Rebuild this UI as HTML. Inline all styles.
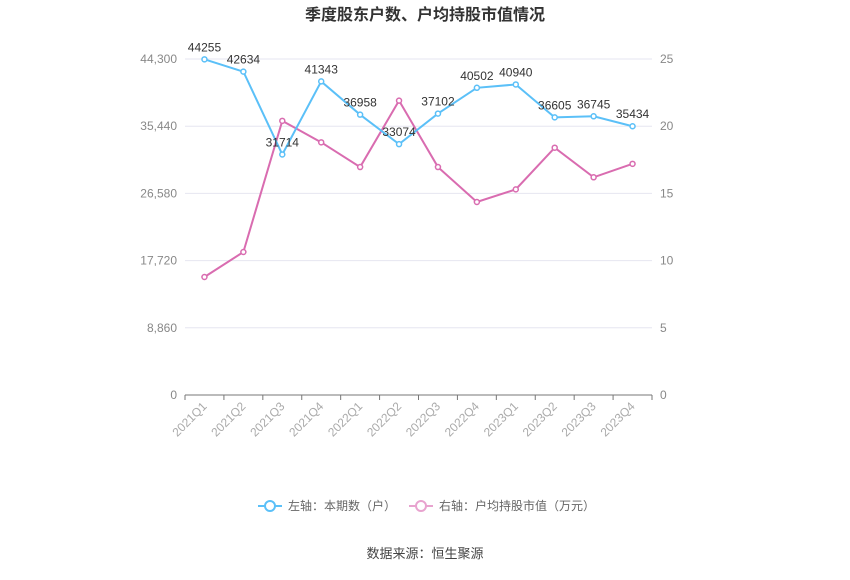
<!DOCTYPE html>
<html><head><meta charset="utf-8"><style>
body{margin:0;background:#fff;font-family:"Liberation Sans","Noto Sans CJK SC",sans-serif;}
</style></head><body>
<svg width="850" height="575" xmlns="http://www.w3.org/2000/svg" font-family="Liberation Sans, Noto Sans CJK SC, sans-serif">
<text x="425" y="20" text-anchor="middle" font-size="16" font-weight="bold" fill="#333">季度股东户数、户均持股市值情况</text>
<g id="grid"></g><g id="axes"></g><g id="series"></g>
<g>
<line x1="258" y1="506" x2="282" y2="506" stroke="#5bc0f8" stroke-width="2"/><circle cx="270" cy="506" r="5" fill="#fff" stroke="#5bc0f8" stroke-width="2"/>
<text x="288" y="510" font-size="12" fill="#666">左轴：本期数（户）</text>
<line x1="409" y1="506" x2="433" y2="506" stroke="#e8a3cf" stroke-width="2"/><circle cx="421" cy="506" r="5" fill="#fff" stroke="#e8a3cf" stroke-width="2"/>
<text x="439" y="510" font-size="12" fill="#666">右轴：户均持股市值（万元）</text>
</g>
<text x="425" y="558" text-anchor="middle" font-size="13" fill="#444">数据来源：恒生聚源</text>
</svg>
<script>
const categories=["2021Q1","2021Q2","2021Q3","2021Q4","2022Q1","2022Q2","2022Q3","2022Q4","2023Q1","2023Q2","2023Q3","2023Q4"];
const holders=[44255,42634,31714,41343,36958,33074,37102,40502,40940,36605,36745,35434];
const avgValue=[8.78,10.64,20.4,18.8,16.96,21.9,16.96,14.36,15.3,18.4,16.2,17.2];
const leftTicks=[0,8860,17720,26580,35440,44300];
const rightTicks=[0,5,10,15,20,25];
const NS="http://www.w3.org/2000/svg";
const X0=185,X1=652,Y0=395,Y1=59;
const bw=(X1-X0)/categories.length;
const x=i=>X0+bw*(i+0.5);
const yL=v=>Y0-(v/44300)*(Y0-Y1);
const yR=v=>Y0-(v/25)*(Y0-Y1);
function mk(t,a,p){const e=document.createElementNS(NS,t);for(const k in a)e.setAttribute(k,a[k]);p.appendChild(e);return e;}
const grid=document.getElementById('grid'),axes=document.getElementById('axes'),ser=document.getElementById('series');
leftTicks.forEach((v,i)=>{
 const l=mk('line',{x1:X0,x2:X1,y1:yL(v),y2:yL(v),stroke:i==0?'#777':'#e6e6f0'},grid);
 
 
 const t=mk('text',{x:177,y:yL(v)+4,'text-anchor':'end','font-size':12,fill:'#888'},axes);t.textContent=v.toLocaleString('en-US');
 
 
});
rightTicks.forEach(v=>{
 const t=mk('text',{x:660,y:yR(v)+4,'font-size':12,fill:'#888'},axes);t.textContent=v;
 
 
});
categories.forEach((c,i)=>{
 mk('line',{x1:X0+bw*(i+1),x2:X0+bw*(i+1),y1:Y0,y2:Y0+5,stroke:'#777'},axes);
 const tx=x(i)+3,ty=Y0+12;
 const t=mk('text',{x:tx,y:ty,'text-anchor':'end','font-size':12,fill:'#aaa',transform:`rotate(-45 ${tx} ${ty})`},axes);t.textContent=c;
 
 
});
mk('line',{x1:X0,x2:X0,y1:Y0,y2:Y0+5,stroke:'#777'},axes);
function line(vals,fy,col,name,labels){
 const p=mk('polyline',{points:vals.map((v,i)=>x(i)+','+fy(v)).join(' '),fill:'none',stroke:col,'stroke-width':2},ser);
 
 
 vals.forEach((v,i)=>{
  const c=mk('circle',{cx:x(i),cy:fy(v),r:2.5,fill:'#fff',stroke:col,'stroke-width':1.5},ser);
  
  
  if(labels){const t=mk('text',{x:x(i),y:fy(v)-8,'text-anchor':'middle','font-size':12,fill:'#333'},ser);t.textContent=v;
   
   }
 });
}
line(avgValue,yR,'#d96cb0','avg-value',false);
line(holders,yL,'#5bc0f8','holders',true);
</script>
</body></html>
